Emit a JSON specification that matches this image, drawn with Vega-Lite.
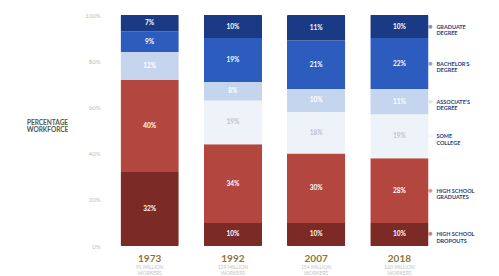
{
  "$schema": "https://vega.github.io/schema/vega-lite/v6.json",
  "width": 333,
  "height": 231,
  "autosize": {"type": "none"},
  "padding": {"left": 108, "top": 15, "right": 58, "bottom": 30},
  "background": "white",
  "config": {"view": {"stroke": null}, "font": "Lato"},
  "datasets": {
    "edu": [
      {"year": "1973", "level": "High school dropouts", "k": 1, "pct": 32, "label": "HIGH SCHOOL|DROPOUTS"},
      {"year": "1973", "level": "High school graduates", "k": 2, "pct": 40, "label": "HIGH SCHOOL|GRADUATES"},
      {"year": "1973", "level": "Associate's degree", "k": 4, "pct": 12, "label": "ASSOCIATE'S|DEGREE"},
      {"year": "1973", "level": "Bachelor's degree", "k": 5, "pct": 9, "label": "BACHELOR'S|DEGREE"},
      {"year": "1973", "level": "Graduate degree", "k": 6, "pct": 7, "label": "GRADUATE|DEGREE"},
      {"year": "1992", "level": "High school dropouts", "k": 1, "pct": 10, "label": "HIGH SCHOOL|DROPOUTS"},
      {"year": "1992", "level": "High school graduates", "k": 2, "pct": 34, "label": "HIGH SCHOOL|GRADUATES"},
      {"year": "1992", "level": "Some college", "k": 3, "pct": 19, "label": "SOME|COLLEGE"},
      {"year": "1992", "level": "Associate's degree", "k": 4, "pct": 8, "label": "ASSOCIATE'S|DEGREE"},
      {"year": "1992", "level": "Bachelor's degree", "k": 5, "pct": 19, "label": "BACHELOR'S|DEGREE"},
      {"year": "1992", "level": "Graduate degree", "k": 6, "pct": 10, "label": "GRADUATE|DEGREE"},
      {"year": "2007", "level": "High school dropouts", "k": 1, "pct": 10, "label": "HIGH SCHOOL|DROPOUTS"},
      {"year": "2007", "level": "High school graduates", "k": 2, "pct": 30, "label": "HIGH SCHOOL|GRADUATES"},
      {"year": "2007", "level": "Some college", "k": 3, "pct": 18, "label": "SOME|COLLEGE"},
      {"year": "2007", "level": "Associate's degree", "k": 4, "pct": 10, "label": "ASSOCIATE'S|DEGREE"},
      {"year": "2007", "level": "Bachelor's degree", "k": 5, "pct": 21, "label": "BACHELOR'S|DEGREE"},
      {"year": "2007", "level": "Graduate degree", "k": 6, "pct": 11, "label": "GRADUATE|DEGREE"},
      {"year": "2018", "level": "High school dropouts", "k": 1, "pct": 10, "label": "HIGH SCHOOL|DROPOUTS"},
      {"year": "2018", "level": "High school graduates", "k": 2, "pct": 28, "label": "HIGH SCHOOL|GRADUATES"},
      {"year": "2018", "level": "Some college", "k": 3, "pct": 19, "label": "SOME|COLLEGE"},
      {"year": "2018", "level": "Associate's degree", "k": 4, "pct": 11, "label": "ASSOCIATE'S|DEGREE"},
      {"year": "2018", "level": "Bachelor's degree", "k": 5, "pct": 22, "label": "BACHELOR'S|DEGREE"},
      {"year": "2018", "level": "Graduate degree", "k": 6, "pct": 10, "label": "GRADUATE|DEGREE"}
    ],
    "subs": [
      {"year": "1973", "sub": "91 MILLION|WORKERS"},
      {"year": "1992", "sub": "129 MILLION|WORKERS"},
      {"year": "2007", "sub": "154 MILLION|WORKERS"},
      {"year": "2018", "sub": "160 MILLION|WORKERS"}
    ]
  },
  "layer": [
    {
      "data": {"name": "edu"},
      "mark": {"type": "bar", "cornerRadius": 1},
      "encoding": {
        "x": {
          "field": "year", "type": "ordinal",
          "scale": {"paddingInner": 0.3, "paddingOuter": 0.15},
          "axis": {"title": null, "labelAngle": 0, "domain": false, "ticks": false, "labelPadding": 7, "labelFontSize": 10, "labelFontWeight": "bold", "labelColor": "#8c7630", "labelBaseline": "top"}
        },
        "y": {
          "field": "pct", "type": "quantitative", "stack": "zero",
          "scale": {"domain": [0, 100]},
          "axis": {
            "title": ["PERCENTAGE", "WORKFORCE"], "titleAngle": 0, "titleX": -61, "titleY": 104,
            "titleAlign": "center", "titleBaseline": "top", "titleFontSize": 6.5, "titleFontWeight": "bold",
            "titleColor": "#55554a", "titleLineHeight": 7,
            "values": [0, 20, 40, 60, 80, 100], "labelExpr": "datum.value + '%'",
            "labelColor": "#bdbdbd", "labelFontSize": 6, "labelPadding": 8,
            "domain": false, "ticks": false, "grid": false
          }
        },
        "order": {"field": "k", "type": "quantitative"},
        "color": {
          "field": "k", "type": "ordinal",
          "scale": {"domain": [1, 2, 3, 4, 5, 6], "range": ["#7b2a26", "#b3463f", "#eef2f9", "#c6d5ee", "#2c5cbd", "#1b3a86"]},
          "legend": null
        }
      }
    },
    {
      "data": {"name": "edu"},
      "transform": [{"calculate": "datum.pct + '%'", "as": "pctText"}],
      "mark": {"type": "text", "fontSize": 6.5, "fontWeight": "bold", "baseline": "middle"},
      "encoding": {
        "x": {"field": "year", "type": "ordinal"},
        "y": {"field": "pct", "type": "quantitative", "stack": "zero", "bandPosition": 0.5},
        "order": {"field": "k", "type": "quantitative"},
        "text": {"field": "pctText", "type": "nominal"},
        "color": {"condition": {"test": "datum.k == 3", "value": "#b9c3d3"}, "value": "white"}
      }
    },
    {
      "data": {"name": "edu"},
      "transform": [{"filter": "datum.year == '2018'"}],
      "mark": {"type": "text", "fontSize": 8, "dx": 31, "baseline": "middle", "opacity": 0.55},
      "encoding": {
        "x": {"field": "year", "type": "ordinal"},
        "y": {"field": "pct", "type": "quantitative", "stack": "zero", "bandPosition": 0.5},
        "order": {"field": "k", "type": "quantitative"},
        "text": {"value": "●"},
        "color": {"field": "k", "type": "ordinal", "legend": null}
      }
    },
    {
      "data": {"name": "edu"},
      "transform": [{"filter": "datum.year == '2018'"}],
      "mark": {"type": "text", "fontSize": 5.5, "fontWeight": "bold", "align": "left", "baseline": "middle", "dx": 37, "lineBreak": "|", "lineHeight": 6.5, "color": "#1f3f80"},
      "encoding": {
        "x": {"field": "year", "type": "ordinal"},
        "y": {"field": "pct", "type": "quantitative", "stack": "zero", "bandPosition": 0.5},
        "order": {"field": "k", "type": "quantitative"},
        "text": {"field": "label", "type": "nominal"}
      }
    },
    {
      "data": {"name": "subs"},
      "mark": {"type": "text", "fontSize": 5, "baseline": "top", "dy": 19, "lineBreak": "|", "lineHeight": 6, "color": "#c4c4c4"},
      "encoding": {
        "x": {"field": "year", "type": "ordinal"},
        "y": {"datum": 0, "type": "quantitative"},
        "text": {"field": "sub", "type": "nominal"}
      }
    }
  ]
}
